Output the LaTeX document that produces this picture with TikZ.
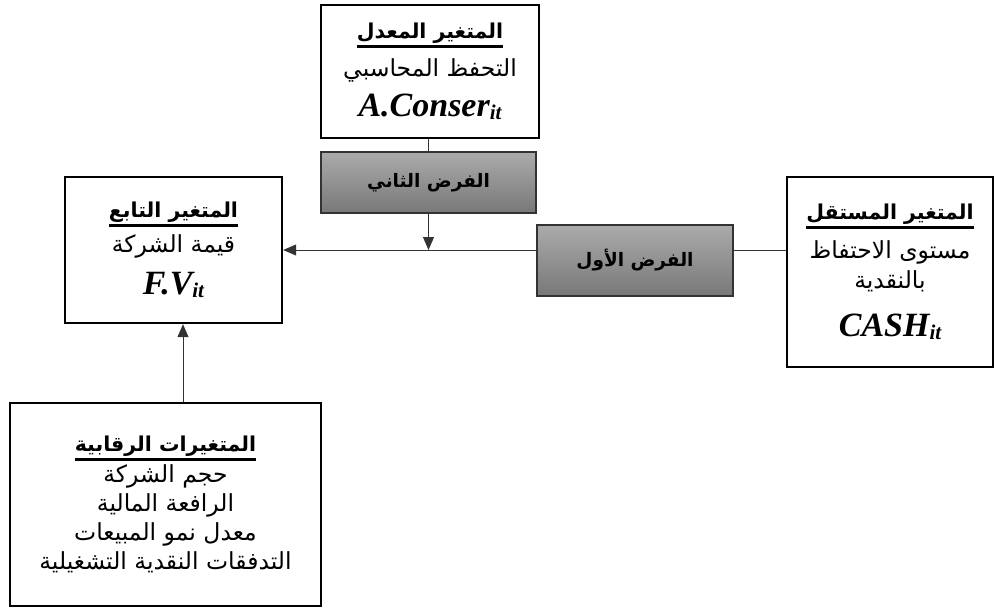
\documentclass[tikz,border=0pt]{standalone}
\usepackage{fontspec}
\usetikzlibrary{arrows.meta}
\TeXXeTstate=1
\newfontfamily\arabicfont[Script=Arabic]{DejaVu Sans}
\newfontfamily\latinfont{Liberation Serif}
\newcommand{\artext}[1]{\beginR #1\endR}
\newcommand{\hdr}[1]{\vtop{\hbox{\fontsize{20.5}{30}\selectfont\bfseries\beginR #1\endR}\kern1pt\hrule height 3.2pt}}
\newcommand{\vname}[2]{{\latinfont\bfseries\itshape\fontsize{34}{30}\selectfont #1\raisebox{-3pt}{\fontsize{21}{21}\selectfont #2}}}
\newcommand{\tightlines}{\lineskiplimit=-100pt\relax}

\tikzset{
    varbox/.style = {draw, line width=2.4pt, align=center, inner sep=0pt,
        font=\arabicfont\fontsize{23.5}{30}\selectfont, execute at begin node=\tightlines},
    hypbox/.style = {draw=black!80, line width=1.3pt, top color=black!33, bottom color=black!53,
        font=\arabicfont\bfseries\fontsize{18.5}{20}\selectfont},
    link/.style = {draw=black!80, line width=0.9pt},
    arrowlink/.style = {-{Triangle[length=13pt,width=11pt]}}
}

\begin{document}
\begin{tikzpicture}[x=1pt, y=-1pt]
    \useasboundingbox (0,0) rectangle (995,608);

    % variables
    \node[varbox, minimum width=218pt, minimum height=133pt] (mod) at (430,71.5)
        {\hdr{المتغير المعدل}\\[8pt] \artext{التحفظ المحاسبي}\\[10pt] \vname{A.Conser}{it}};
    \node[varbox, minimum width=217pt, minimum height=146pt] (dep) at (173.5,250)
        {\hdr{المتغير التابع}\\[5pt] \artext{قيمة الشركة}\\[12pt] \vname{F.V}{it}};
    \node[varbox, minimum width=206pt, minimum height=190pt] (ind) at (890,272)
        {\hdr{المتغير المستقل}\\[9pt] \artext{مستوى الاحتفاظ}\\ \artext{بالنقدية}\\[18pt] \vname{CASH}{it}};
    \node[varbox, minimum width=311pt, minimum height=203pt,
          font=\arabicfont\fontsize{23.5}{29}\selectfont] (ctrl) at (165.5,504.5)
        {\hdr{المتغيرات الرقابية}\\[2pt] \artext{حجم الشركة}\\ \artext{الرافعة المالية}\\
         \artext{معدل نمو المبيعات}\\ \artext{التدفقات النقدية التشغيلية}};

    % hypotheses
    \node[hypbox, minimum width=215pt, minimum height=61pt] (hyp2) at (428.5,182.5)
        {\artext{الفرض الثاني}};
    \node[hypbox, minimum width=196pt, minimum height=71pt] (hyp1) at (635,260.5)
        {\artext{الفرض الأول}};

    \coordinate (meet) at (428.5,250);
    \coordinate (up) at (183,0);

    \draw[link] (hyp2.north |- mod.south) -- (hyp2.north);
    \draw[link, arrowlink] (hyp2.south) -- (meet);
    \draw[link] (ind.west |- meet) -- (hyp1.east |- meet);
    \draw[link, arrowlink] (hyp1.west |- meet) -- (dep.east |- meet);
    \draw[link, arrowlink] (ctrl.north -| up) -- (dep.south -| up);
\end{tikzpicture}
\end{document}
